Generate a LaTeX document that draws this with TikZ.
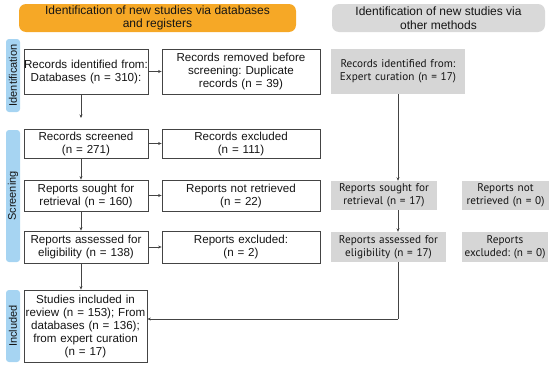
\documentclass[tikz,border=0pt]{standalone}
\usepackage{fontspec}
\setmainfont{Liberation Sans}
\newfontfamily\grayfont{PT Sans}
\usetikzlibrary{arrows.meta}
\frenchspacing
\definecolor{hdrorange}{HTML}{F6A826}
\definecolor{hdrgray}{HTML}{D9D9D9}
\definecolor{boxgray}{HTML}{D6D6D6}
\definecolor{sideblue}{HTML}{A6D4F2}
\definecolor{edgegray}{HTML}{444444}
\definecolor{txt}{HTML}{151515}
\tikzset{
  every node/.style={text=txt, font=\frenchspacing\fontsize{11.6}{13}\selectfont, align=center, inner sep=0pt},
  wbox/.style={draw=edgegray, line width=0.8pt, fill=white, minimum width=#1, text width=#1},
  gbox/.style={fill=boxgray, minimum width=#1, text width=#1+4pt, font=\frenchspacing\grayfont\fontsize{11.2}{13}\selectfont},
  hdr/.style={rounded corners=7pt, minimum height=28pt, font=\frenchspacing\fontsize{12}{13.5}\selectfont},
  side/.style={fill=sideblue, rounded corners=3pt, minimum width=14pt, rotate=90, font=\fontsize{11}{13}\selectfont},
  arr/.style={draw=edgegray, line width=0.7pt, -{Stealth[length=3.5pt,width=3pt]}},
  ln/.style={draw=edgegray, line width=0.7pt}
}
\begin{document}
\begin{tikzpicture}[x=1pt,y=-1pt]
\useasboundingbox (0,0) rectangle (550,367);
% headers
\node[hdr, fill=hdrorange, minimum width=277pt] (h1) at (157.5,18) {Identification of new studies via databases\\and registers};
\node[hdr, fill=hdrgray, minimum width=213pt] (h2) at (438.5,18) {Identification of new studies via\\other methods};
% side labels
\node[side, minimum width=73pt, minimum height=14pt] (s1) at (13,75.5) {Identification};
\node[side, minimum width=132pt, minimum height=14pt] (s2) at (13,196) {Screening};
\node[side, minimum width=72pt, minimum height=14pt] (s3) at (13,326) {Included};
% left column
\node[wbox=124pt, minimum height=45pt] (a1) at (86,71.5) {Records identified from:\\Databases (n = 310):\\[5pt]};
\node[wbox=158pt, minimum height=45pt] (b1) at (241,71.5) {Records removed before\\screening: Duplicate\\records (n = 39)};
\node[wbox=124pt, minimum height=29pt] (a2) at (86,143.5) {Records screened\\(n = 271)};
\node[wbox=158pt, minimum height=29pt] (b2) at (241,143.5) {Records excluded\\(n = 111)};
\node[wbox=124pt, minimum height=31pt] (a3) at (86,195.5) {Reports sought for\\retrieval (n = 160)};
\node[wbox=158pt, minimum height=31pt] (b3) at (241,195.5) {Reports not retrieved\\(n = 22)};
\node[wbox=124pt, minimum height=32pt] (a4) at (86,247) {Reports assessed for\\eligibility (n = 138)};
\node[wbox=158pt, minimum height=32pt] (b4) at (241,247) {Reports excluded:\\(n = 2)};
\node[wbox=123pt, minimum height=72pt] (a5) at (85.5,326) {Studies included in\\review (n = 153); From\\databases (n = 136);\\from expert curation\\(n = 17)};
% right column
\node[gbox=130pt, minimum height=45pt] (g1) at (398,71.5) {Records identified from:\\Expert curation (n = 17)};
\node[gbox=102pt, minimum height=29pt] (g2) at (384,195.5) {Reports sought for\\retrieval (n = 17)};
\node[gbox=83pt, minimum height=29pt] (g3) at (505.5,195.5) {Reports not\\retrieved (n = 0)};
\node[gbox=111pt, minimum height=30pt] (g4) at (388.5,247) {Reports assessed for\\eligibility (n = 17)};
\node[gbox=82pt, minimum height=30pt] (g5) at (505,247) {Reports\\excluded: (n = 0)};
% connectors
\draw[arr] (a1) -- (b1);
\draw[arr] (a2) -- (b2);
\draw[arr] (a3) -- (b3);
\draw[arr] (a4) -- (b4);
\draw[arr] ([xshift=-5pt]a1.south) -- ([xshift=-5pt]a1.south |- 0,118);
\draw[arr] ([xshift=-5pt]a2.south) -- ([xshift=-5pt]a3.north);
\draw[arr] ([xshift=-5pt]a3.south) -- ([xshift=-5pt]a4.north);
\draw[arr] ([xshift=-5pt]a4.south) -- ([xshift=-4.5pt]a5.north);
\draw[arr] (g1.south) -- (g1.south |- g2.north);
\draw[arr] (g1.south |- g2.south) -- (g1.south |- g4.north);
\coordinate (c1) at (398,319);
\draw[ln] (g1.south |- g4.south) -- (c1);
\draw[arr] (c1) -- (c1 -| a5.east);
\end{tikzpicture}
\end{document}
